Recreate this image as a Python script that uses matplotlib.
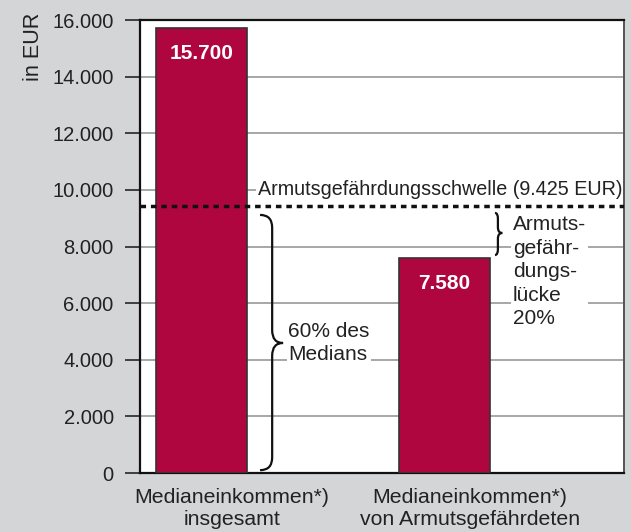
import matplotlib.pyplot as plt
from matplotlib.path import Path
from matplotlib.patches import PathPatch

plt.rcParams['font.family'] = ['Liberation Sans', 'DejaVu Sans']

# data
categories = ["Medianeinkommen*)\ninsgesamt", "Medianeinkommen*)\nvon Armutsgefährdeten"]
values = [15700, 7580]
value_labels = ["15.700", "7.580"]
threshold = 9425
threshold_label = "Armutsgefährdungsschwelle (9.425 EUR)"
yticks = [0, 2000, 4000, 6000, 8000, 10000, 12000, 14000, 16000]
ytick_labels = ["0", "2.000", "4.000", "6.000", "8.000", "10.000", "12.000", "14.000", "16.000"]

bg = "#d4d5d7"
bar_color = "#b0063f"
txt = "#222222"


def brace(ax, x0, xmid, xtip, ytop, ybot, ytip, r):
    # vertical curly brace "}" in data coordinates
    verts = [(x0, ytop), (xmid, ytop), (xmid, ytop - r),
             (xmid, ytip + r),
             (xmid, ytip), (xtip, ytip),
             (xmid, ytip), (xmid, ytip - r),
             (xmid, ybot + r),
             (xmid, ybot), (x0, ybot)]
    codes = [Path.MOVETO, Path.CURVE3, Path.CURVE3,
             Path.LINETO,
             Path.CURVE3, Path.CURVE3,
             Path.CURVE3, Path.CURVE3,
             Path.LINETO,
             Path.CURVE3, Path.CURVE3]
    ax.add_patch(PathPatch(Path(verts, codes), fill=False, lw=1.6,
                           edgecolor="#111111", zorder=4))


fig = plt.figure(figsize=(6.31, 5.32), dpi=100, facecolor=bg)
ax = fig.add_axes([0.2219, 0.1109, 0.7670, 0.8515])
ax.set_facecolor("white")

x = [0, 1]
ax.bar(x, values, width=0.375, color=bar_color, edgecolor="#333333", linewidth=1.2, zorder=3)
for xi, v, lab in zip(x, values, value_labels):
    ax.text(xi, v - 900, lab, ha="center", va="center", color="white",
            fontsize=15, fontweight="bold", zorder=5)

ax.set_xlim(-0.254, 1.742)
ax.set_ylim(0, 16000)
ax.set_yticks(yticks)
ax.set_yticklabels(ytick_labels, fontsize=14.5, color=txt)
ax.tick_params(axis="y", length=11, width=1.3, color="#333333", pad=8)
ax.set_xticks([0.126, 1.107])
ax.set_xticklabels(categories, fontsize=15.3, color=txt, linespacing=1.2)
ax.tick_params(axis="x", length=0, pad=11)
ax.yaxis.grid(True, color="#a0a0a0", lw=1.3, zorder=1)
ax.set_axisbelow(True)
for side in ["left", "bottom", "top"]:
    ax.spines[side].set_color("#111111")
    ax.spines[side].set_linewidth(1.6)
ax.spines["right"].set_color("#555555")
ax.spines["right"].set_linewidth(1.4)

# threshold line
ax.axhline(threshold, color="#111111", lw=2.5, linestyle=(0, (1.6, 1.4)), zorder=4)
ax.text(1.734, threshold + 575, threshold_label, ha="right", va="center",
        fontsize=14.2, color=txt, zorder=4,
        bbox=dict(facecolor="white", edgecolor="none", pad=1))

# brace: 60% of median
brace(ax, 0.241, 0.291, 0.336, threshold - 310, 100, 4592, 450)
ax.text(0.357, 4592, "60% des\nMedians", ha="left", va="center", fontsize=15,
        color=txt, linespacing=1.25, zorder=4,
        bbox=dict(facecolor="white", edgecolor="none", pad=1))

# brace: gap
brace(ax, 1.210, 1.222, 1.240, threshold - 240, values[1] + 120, 8477, 200)
ax.text(1.284, threshold - 320, "Armuts-\ngefähr-\ndungs-\nlücke\n20%", ha="left", va="top",
        fontsize=15, color=txt, linespacing=1.3, zorder=4,
        bbox=dict(facecolor="white", edgecolor="none", pad=1))

fig.text(0.053, 0.976, "in EUR", rotation=90, ha="center", va="top", fontsize=15.6, color=txt)

fig.savefig("out.png", dpi=100, facecolor=bg)
